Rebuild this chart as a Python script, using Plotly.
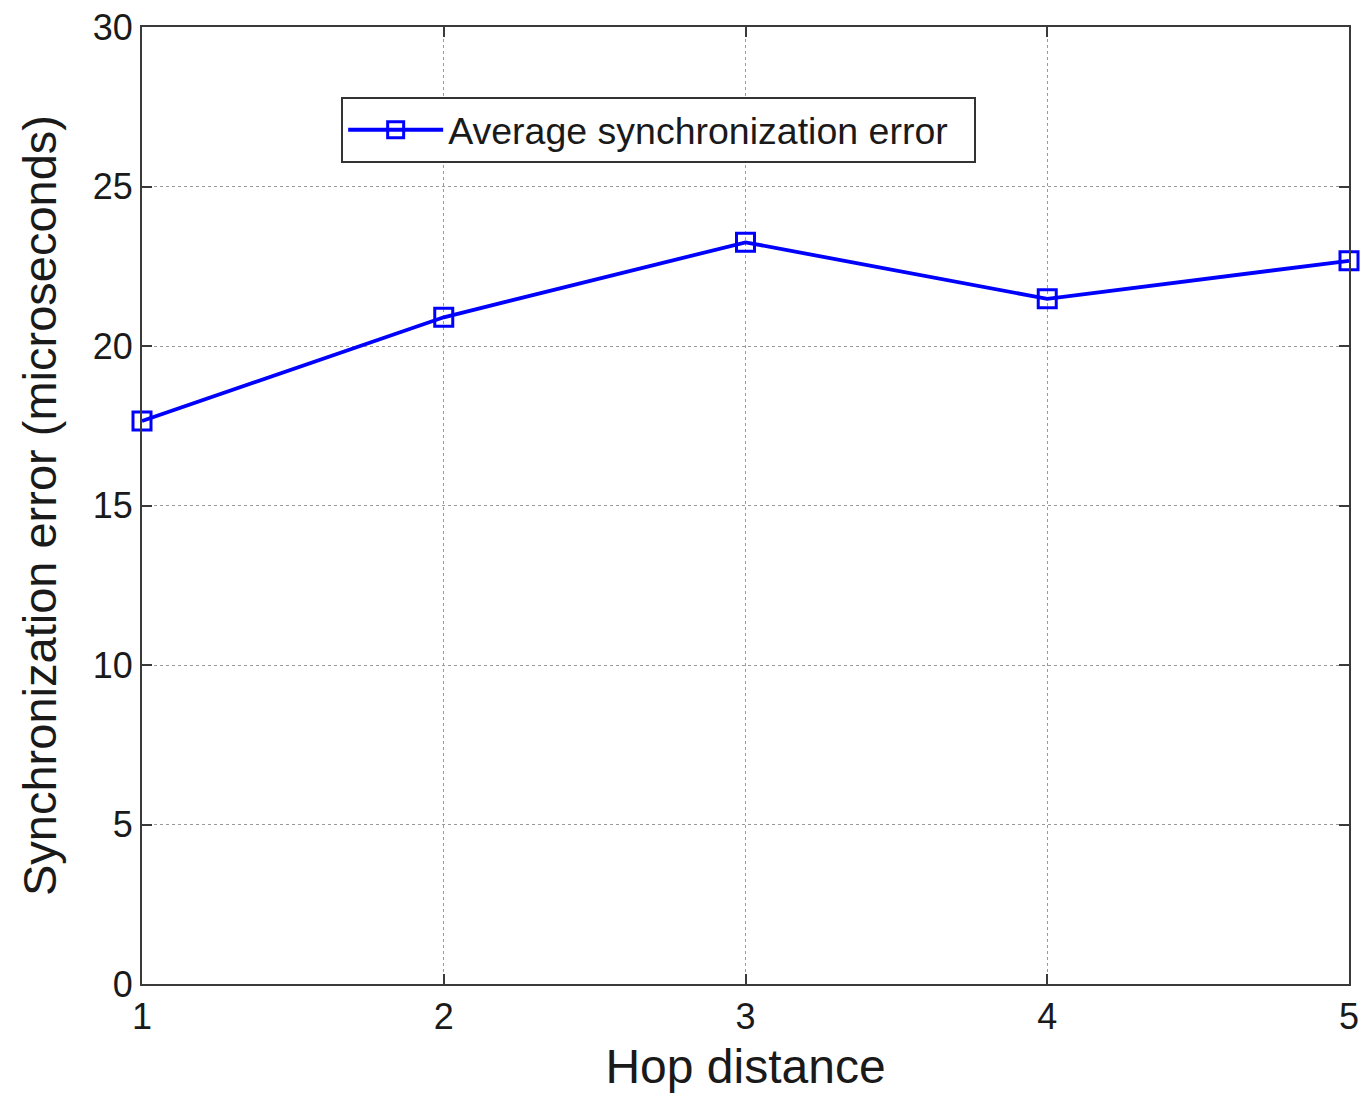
import plotly.graph_objects as go

hops = [1, 2, 3, 4, 5]
avg_sync_error = [17.65, 20.9, 23.25, 21.48, 22.67]
x_ticks = [1, 2, 3, 4, 5]
y_ticks = [0, 5, 10, 15, 20, 25, 30]

FONT = "Liberation Sans, Arial, Helvetica, sans-serif"
AX = "#3a3a3a"

fig = go.Figure()
fig.add_trace(go.Scatter(
    x=hops, y=avg_sync_error, mode="lines+markers",
    name="Average synchronization error\u00a0\u00a0",
    line=dict(color="#0000ff", width=3.8),
    marker=dict(symbol="square-open", size=18, color="#0000ff",
                line=dict(width=3, color="#0000ff")),
    cliponaxis=False,
))

axis_common = dict(
    showline=True, linecolor=AX, linewidth=2, mirror="ticks",
    ticks="inside", ticklen=10, tickwidth=2, tickcolor=AX,
    showgrid=True, gridcolor="#9a9a9a", griddash="dot", gridwidth=1.2,
    zeroline=False, automargin=False, ticklabeloverflow="allow",
    tickfont=dict(family=FONT, size=36, color="#1a1a1a"),
)

fig.update_xaxes(range=[1, 5], tickvals=x_ticks,
                 title=dict(text="Hop distance", font=dict(family=FONT, size=48, color="#1a1a1a"), standoff=13),
                 **axis_common)
fig.update_yaxes(range=[0, 30], tickvals=y_ticks,
                 title=dict(text="Synchronization error (microseconds)", font=dict(family=FONT, size=47, color="#1a1a1a"), standoff=21),
                 **axis_common)

fig.update_layout(
    width=1362, height=1097,
    margin=dict(l=142, r=13, t=27, b=113),
    plot_bgcolor="white", paper_bgcolor="white",
    showlegend=True,
    legend=dict(x=0.165, y=0.927, xanchor="left", yanchor="top",
                bordercolor="#333", borderwidth=2, bgcolor="white",
                font=dict(family=FONT, size=37.5, color="#1a1a1a"),
                itemwidth=95),
)

fig.write_html("out.html", config={"displayModeBar": False},
               post_script="document.body.style.margin='0';document.body.style.overflow='hidden';")
